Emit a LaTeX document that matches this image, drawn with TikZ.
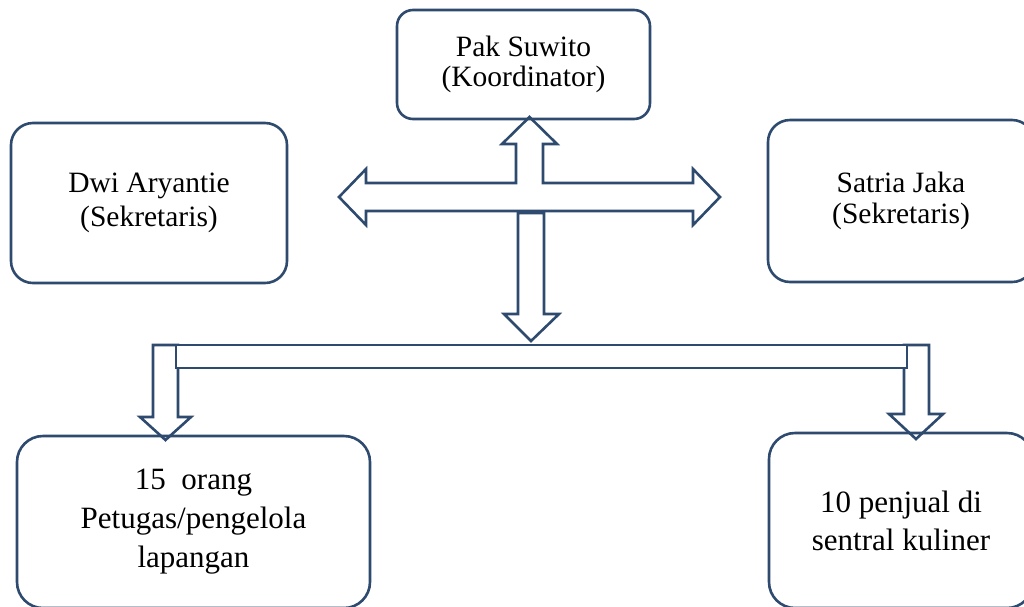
\documentclass[tikz,border=0pt]{standalone}
\usepackage{fontspec}
\setmainfont{Liberation Serif}
\definecolor{garis}{RGB}{46,74,110}
\begin{document}
\begin{tikzpicture}[x=1pt,y=-1pt,
    kotak/.style={draw=garis,line width=2.6pt,rounded corners=22pt,align=center,inner sep=0pt,font=\fontsize{29.5}{34}\selectfont},
    panah/.style={draw=garis,line width=2.6pt,line join=miter,fill=white}]
  \useasboundingbox (0,0) rectangle (1024,606);
  \clip (0,0) rectangle (1024,606);
  % panah silang dari koordinator
  \draw[panah] (529.5,117) -- (557,144) -- (543,144) -- (543,183) -- (693,183) -- (693,169) -- (720,197)
    -- (693,225) -- (693,211) -- (366,211) -- (366,225) -- (339,197) -- (366,169) -- (366,183)
    -- (516,183) -- (516,144) -- (502,144) -- cycle;
  \draw[panah] (518,213) -- (544,213) -- (544,314) -- (559,314) -- (531,341) -- (504,314) -- (518,314) -- cycle;
  % cabang bawah
  \draw[panah] (153,345) -- (178,345) -- (178,417) -- (191,417) -- (165.5,440) -- (140,417) -- (153,417) -- cycle;
  \draw[panah] (904,345) -- (929,345) -- (929,414) -- (943,414) -- (916,439) -- (889,414) -- (904,414) -- cycle;
  \draw[panah] (176,345) rectangle (907,368);
  % kotak
  \node[kotak,rounded corners=16pt,minimum width=253pt,minimum height=109pt,font=\fontsize{29.5}{30}\selectfont]
    (koordinator) at (523.5,64.5) {Pak Suwito\\(Koordinator)};
  \node[kotak,minimum width=276pt,minimum height=160pt] (sekA) at (149,203) {Dwi Aryantie\\(Sekretaris)};
  \node[kotak,minimum width=266pt,minimum height=162pt,font=\fontsize{29.5}{31}\selectfont]
    (sekB) at (901,201) {Satria Jaka\\(Sekretaris)};
  \node[kotak,rounded corners=26pt,minimum width=353pt,minimum height=172pt,font=\fontsize{31}{39}\selectfont]
    (petugas) at (193.5,522) {15\ \ orang\\Petugas/pengelola\\lapangan};
  \node[kotak,rounded corners=26pt,minimum width=264pt,minimum height=175pt,font=\fontsize{31}{38}\selectfont]
    (penjual) at (901,520.5) {10 penjual di\\sentral kuliner};
\end{tikzpicture}
\end{document}
